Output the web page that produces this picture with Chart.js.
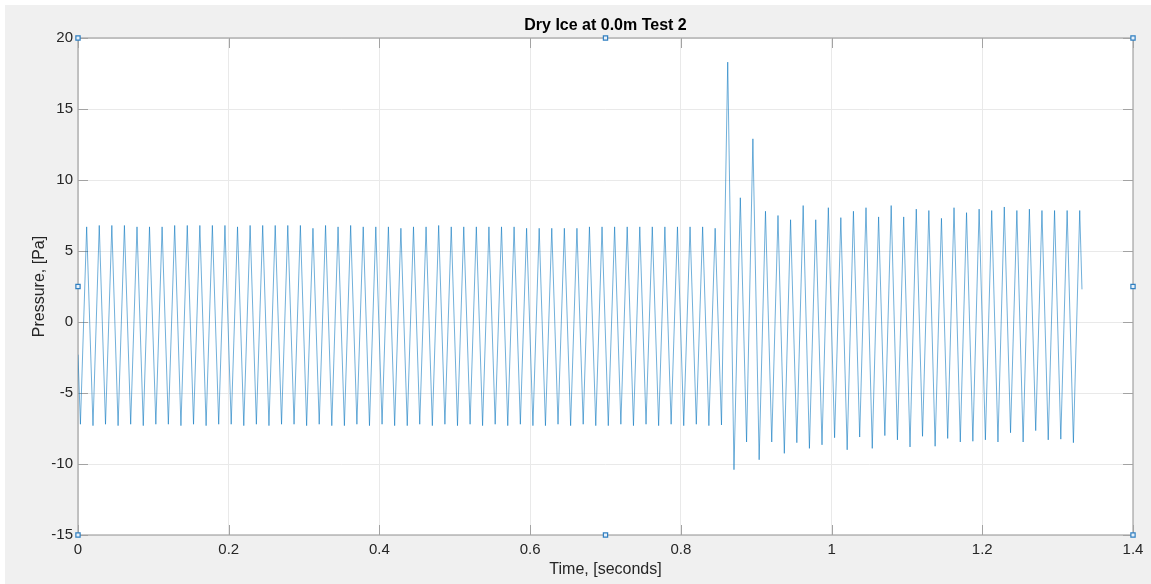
<!DOCTYPE html>
<html>
<head>
<meta charset="utf-8">
<script src="https://cdn.jsdelivr.net/npm/chart.js@4.4.0/dist/chart.umd.min.js"></script>
<style>
html, body { margin: 0; padding: 0; background: #fff; }
canvas { display: block; }
</style>
</head>
<body>
<canvas id="pressureChart" width="1151" height="584"></canvas>
<script>
// axis ticks
const xTickValues = [0, 0.2, 0.4, 0.6, 0.8, 1, 1.2, 1.4];
const xTickLabels = ['0', '0.2', '0.4', '0.6', '0.8', '1', '1.2', '1.4'];
const yTickValues = [-15, -10, -5, 0, 5, 10, 15, 20];
const yTickLabels = ['-15', '-10', '-5', '0', '5', '10', '15', '20'];

// signal: first sample, every trough/peak, last sample
const startPoint = [0, -2.3];
const endPoint = [1.3323, 2.3];

const troughTimes = [
    0.0032, 0.0199, 0.0365, 0.0532, 0.0699, 0.0866, 0.1033, 0.1199, 0.1366, 0.1533,
    0.1700, 0.1867, 0.2033, 0.2200, 0.2367, 0.2534, 0.2701, 0.2867, 0.3034, 0.3201,
    0.3368, 0.3535, 0.3701, 0.3868, 0.4035, 0.4202, 0.4369, 0.4535, 0.4702, 0.4869,
    0.5036, 0.5203, 0.5369, 0.5536, 0.5703, 0.5870, 0.6037, 0.6203, 0.6370, 0.6537,
    0.6704, 0.6871, 0.7037, 0.7204, 0.7371, 0.7538, 0.7705, 0.7871, 0.8038, 0.8205,
    0.8372, 0.8539, 0.8705, 0.8872, 0.9039, 0.9206, 0.9373, 0.9539, 0.9706, 0.9873,
    1.0040, 1.0207, 1.0373, 1.0540, 1.0707, 1.0874, 1.1041, 1.1207, 1.1374, 1.1541,
    1.1708, 1.1875, 1.2041, 1.2208, 1.2375, 1.2542, 1.2709, 1.2875, 1.3042, 1.3209
];
const troughValues = [
    -7.2, -7.3, -7.2, -7.3, -7.2, -7.3, -7.2, -7.2, -7.3, -7.2,
    -7.3, -7.2, -7.2, -7.3, -7.2, -7.3, -7.2, -7.2, -7.3, -7.2,
    -7.3, -7.3, -7.2, -7.3, -7.2, -7.3, -7.3, -7.2, -7.3, -7.2,
    -7.3, -7.2, -7.3, -7.2, -7.3, -7.2, -7.3, -7.3, -7.2, -7.3,
    -7.2, -7.3, -7.3, -7.2, -7.3, -7.2, -7.3, -7.2, -7.3, -7.2,
    -7.3, -7.25, -10.4, -8.45, -9.7, -8.45, -9.25, -8.5, -8.9, -8.65,
    -8.15, -9.0, -8.1, -8.9, -8.0, -8.3, -8.8, -8.05, -8.75, -8.2,
    -8.45, -8.4, -8.3, -8.45, -7.8, -8.45, -7.65, -8.3, -8.25, -8.5
];
const peakTimes = [
    0.0115, 0.0282, 0.0449, 0.0616, 0.0783, 0.0949, 0.1116, 0.1283, 0.1450, 0.1617,
    0.1783, 0.1950, 0.2117, 0.2284, 0.2451, 0.2617, 0.2784, 0.2951, 0.3118, 0.3285,
    0.3451, 0.3618, 0.3785, 0.3952, 0.4119, 0.4285, 0.4452, 0.4619, 0.4786, 0.4953,
    0.5119, 0.5286, 0.5453, 0.5620, 0.5787, 0.5953, 0.6120, 0.6287, 0.6454, 0.6621,
    0.6787, 0.6954, 0.7121, 0.7288, 0.7455, 0.7621, 0.7788, 0.7955, 0.8122, 0.8289,
    0.8455, 0.8622, 0.8789, 0.8956, 0.9123, 0.9289, 0.9456, 0.9623, 0.9790, 0.9957,
    1.0123, 1.0290, 1.0457, 1.0624, 1.0791, 1.0957, 1.1124, 1.1291, 1.1458, 1.1625,
    1.1791, 1.1958, 1.2125, 1.2292, 1.2459, 1.2625, 1.2792, 1.2959, 1.3126, 1.3293
];
const peakValues = [
    6.7, 6.8, 6.8, 6.8, 6.7, 6.7, 6.7, 6.8, 6.8, 6.8,
    6.8, 6.8, 6.7, 6.8, 6.8, 6.8, 6.8, 6.8, 6.6, 6.8,
    6.7, 6.8, 6.7, 6.7, 6.7, 6.6, 6.7, 6.7, 6.8, 6.7,
    6.7, 6.7, 6.7, 6.7, 6.7, 6.6, 6.6, 6.6, 6.6, 6.6,
    6.7, 6.7, 6.7, 6.7, 6.7, 6.7, 6.7, 6.7, 6.7, 6.7,
    6.6, 18.3, 8.75, 12.9, 7.8, 7.5, 7.2, 8.2, 7.2, 8.05,
    7.35, 7.8, 8.05, 7.4, 8.2, 7.4, 7.95, 7.85, 7.3, 8.05,
    7.7, 7.95, 7.85, 8.1, 7.85, 7.95, 7.85, 7.85, 7.85, 7.85
];

// edit-mode selection handles around the axes
const handleX = [0, 0.7, 1.4, 0, 1.4, 0, 0.7, 1.4];
const handleY = [20, 20, 20, 2.5, 2.5, -15, -15, -15];

const signal = [{ x: startPoint[0], y: startPoint[1] }];
for (let i = 0; i < peakTimes.length; i++) {
    signal.push({ x: troughTimes[i], y: troughValues[i] });
    signal.push({ x: peakTimes[i], y: peakValues[i] });
}
signal.push({ x: endPoint[0], y: endPoint[1] });

const handles = handleX.map((x, i) => ({ x: x, y: handleY[i] }));

const axisColor = '#a3a3a3';
const textColor = '#262626';
const fontFamily = '"Liberation Sans", Arial, Helvetica, sans-serif';

const matlabFrame = {
    id: 'matlabFrame',
    beforeDraw(chart) {
        const ctx = chart.ctx;
        const a = chart.chartArea;
        ctx.save();
        ctx.fillStyle = '#ffffff';
        ctx.fillRect(0, 0, chart.width, chart.height);
        ctx.fillStyle = '#f0f0f0';
        ctx.fillRect(5, 5, chart.width - 5, chart.height - 5);
        ctx.fillStyle = '#ffffff';
        ctx.fillRect(a.left, a.top, a.right - a.left, a.bottom - a.top);
        ctx.restore();
    },
    beforeDatasetsDraw(chart) {
        const ctx = chart.ctx;
        const a = chart.chartArea;
        const xs = chart.scales.x;
        const ys = chart.scales.y;
        const len = 10;
        ctx.save();
        ctx.strokeStyle = axisColor;
        ctx.lineWidth = 1;
        ctx.beginPath();
        xTickValues.forEach(v => {
            const px = Math.round(xs.getPixelForValue(v)) + 0.5;
            ctx.moveTo(px, a.bottom);
            ctx.lineTo(px, a.bottom - len);
            ctx.moveTo(px, a.top);
            ctx.lineTo(px, a.top + len);
        });
        yTickValues.forEach(v => {
            const py = Math.round(ys.getPixelForValue(v)) + 0.5;
            ctx.moveTo(a.left, py);
            ctx.lineTo(a.left + len, py);
            ctx.moveTo(a.right, py);
            ctx.lineTo(a.right - len, py);
        });
        ctx.stroke();
        ctx.lineWidth = 1.2;
        ctx.strokeRect(a.left, a.top, a.right - a.left, a.bottom - a.top);
        ctx.restore();
    }
};

const ctx = document.getElementById('pressureChart').getContext('2d');

new Chart(ctx, {
    data: {
        datasets: [{
            type: 'line',
            data: signal,
            borderColor: 'rgba(0, 114, 189, 0.8)',
            borderWidth: 0.7,
            pointRadius: 0,
            tension: 0,
            fill: false
        }, {
            type: 'scatter',
            data: handles,
            pointStyle: 'rect',
            pointRadius: 3,
            backgroundColor: '#e8f1fa',
            borderColor: '#2f7fc1',
            borderWidth: 1.2,
            clip: false
        }]
    },
    options: {
        responsive: false,
        animation: false,
        devicePixelRatio: 1,
        layout: { padding: { left: 0, right: 18, top: 0, bottom: 0 } },
        plugins: {
            legend: { display: false },
            tooltip: { enabled: false },
            title: {
                display: true,
                fullSize: false,
                text: 'Dry Ice at 0.0m Test 2',
                color: '#000000',
                font: { family: fontFamily, size: 16, weight: 'bold' },
                padding: { top: 16.1, bottom: 2.7 }
            }
        },
        scales: {
            x: {
                type: 'linear',
                min: 0,
                max: 1.4,
                afterBuildTicks: scale => { scale.ticks = xTickValues.map(v => ({ value: v })); },
                afterFit: scale => { scale.height = 49; },
                ticks: {
                    callback: (v, i) => xTickLabels[i],
                    color: textColor,
                    padding: 6,
                    maxRotation: 0,
                    autoSkip: false,
                    font: { family: fontFamily, size: 15 }
                },
                grid: { color: '#e9e9e9', drawTicks: false },
                border: { display: false },
                title: {
                    display: true,
                    text: 'Time, [seconds]',
                    color: textColor,
                    font: { family: fontFamily, size: 16 },
                    padding: { top: 0, bottom: 4.4 }
                }
            },
            y: {
                type: 'linear',
                min: -15,
                max: 20,
                afterBuildTicks: scale => { scale.ticks = yTickValues.map(v => ({ value: v })); },
                afterFit: scale => { scale.width = 78; },
                ticks: {
                    callback: (v, i) => yTickLabels[i],
                    color: textColor,
                    padding: 5,
                    autoSkip: false,
                    font: { family: fontFamily, size: 15 }
                },
                grid: { color: '#e9e9e9', drawTicks: false },
                border: { display: false },
                title: {
                    display: true,
                    text: 'Pressure, [Pa]',
                    color: textColor,
                    font: { family: fontFamily, size: 16 },
                    padding: { top: 30.4, bottom: 0 }
                }
            }
        }
    },
    plugins: [matlabFrame]
});
</script>
</body>
</html>
